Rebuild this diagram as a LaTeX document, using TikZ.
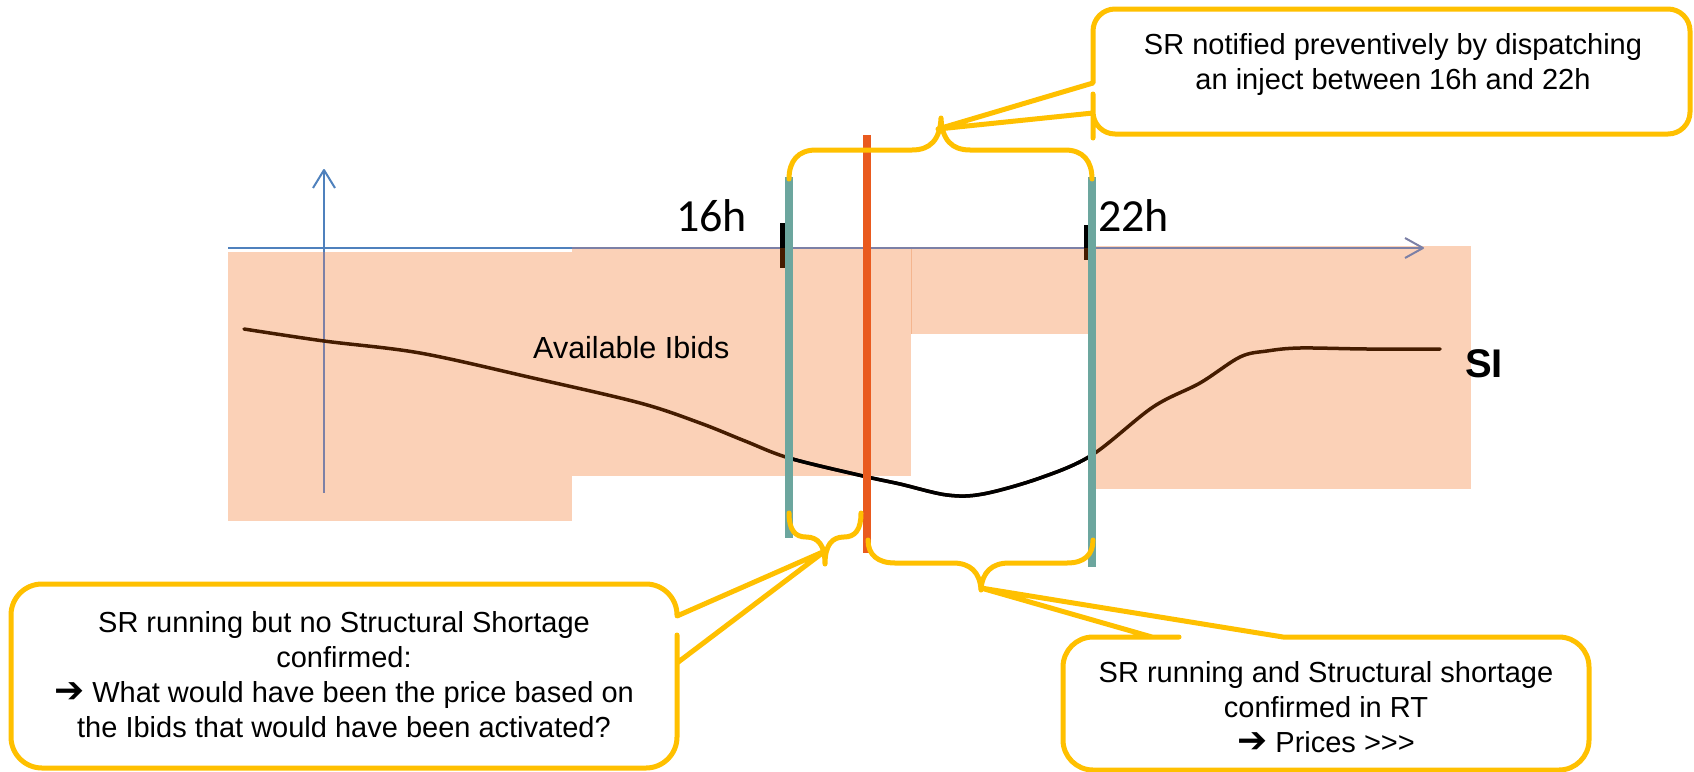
\documentclass[tikz,border=0pt]{standalone}
\usepackage{fontspec}
\setmainfont{Liberation Sans}
\newfontfamily\carlito{Carlito}
\newfontfamily\dejavu{DejaVu Sans}
\definecolor{peach}{HTML}{FBD1B7}
\definecolor{peachedge}{HTML}{F4B58E}
\definecolor{axblue}{HTML}{4F81BD}
\definecolor{axdim}{HTML}{7C80A6}
\definecolor{tealc}{HTML}{6CA69E}
\definecolor{orangec}{HTML}{E95A1E}
\definecolor{gold}{HTML}{FFC000}
\definecolor{brownc}{HTML}{451C00}
\newcommand{\heavyarrow}{{\dejavu\fontsize{36}{35}\selectfont ➔}}
\tikzset{
  peachbox/.style={fill=peach, draw=none},
  axisline/.style={draw=axblue, line width=2pt},
  axisdim/.style={draw=axdim, line width=2pt},
  tealline/.style={draw=tealc, line width=8pt},
  orangeline/.style={draw=orangec, line width=8pt},
  tickmark/.style={line width=5pt},
  curveline/.style={line width=3.5pt, line cap=round},
  bracepath/.style={draw=gold, line width=5pt, line cap=round, line join=round},
  calloutbox/.style={draw=gold, fill=white, line width=5pt, line join=round},
  ctext/.style={font=\fontsize{29}{35}\selectfont, align=center, inner sep=0pt, anchor=base},
  hourlabel/.style={font=\carlito\fontsize{46}{50}\selectfont, inner sep=0pt, anchor=base west},
}
\begin{document}
\begin{tikzpicture}[x=1pt,y=-1pt]
\useasboundingbox (0,0) rectangle (1694,771);
% axes (blue part)
\draw[axisline] (228,248) -- (1423,248);
\draw[axisline] (324,493) -- (324,170);
% peach areas
\fill[peachbox] (228,252) rectangle (572,521);
\fill[peachbox] (572,248.5) rectangle (911,476);
\fill[peachbox] (911,248.5) rectangle (1091,334);
\fill[peachbox] (1088,246) rectangle (1471,489);
\draw[draw=peachedge, line width=1pt] (911,249) -- (911,334);
% axes over peach
\draw[axisdim] (572,248) -- (1423,248);
\draw[axisdim, line join=round] (1405,238) -- (1423,248) -- (1405,258);
\draw[axisdim] (324,252) -- (324,493);
\draw[axisline, line join=round] (313,188) -- (324,170) -- (335,188);
% curve
\draw[curveline, draw=brownc] plot[smooth, tension=0.55] coordinates {(244,329) (324,341) (420,353) (533,378) (640,403) (700,423) (745,441) (789,458) (863,476) (900,484) (947,495) (983,494) (1040,478) (1092,455) (1153,407) (1200,383) (1240,357) (1267,351) (1300,348) (1367,349) (1440,349)};
\begin{scope}
\clip (789,400) rectangle (1092,520);
\draw[curveline, draw=black] plot[smooth, tension=0.55] coordinates {(244,329) (324,341) (420,353) (533,378) (640,403) (700,423) (745,441) (789,458) (863,476) (900,484) (947,495) (983,494) (1040,478) (1092,455) (1153,407) (1200,383) (1240,357) (1267,351) (1300,348) (1367,349) (1440,349)};
\end{scope}
% tick marks
\draw[tickmark, draw=black] (782,223) -- (782,248);
\draw[tickmark, draw=brownc] (782,248) -- (782,268);
\draw[tickmark, draw=black] (1086,225) -- (1086,248);
\draw[tickmark, draw=brownc] (1086,248) -- (1086,260);
% vertical markers
\draw[tealline] (789,177) -- (789,538);
\draw[tealline] (1092,177) -- (1092,567);
\draw[orangeline] (867,135) -- (867,553);
% labels
\node[hourlabel] (h16) at (676,231) {16h};
\node[hourlabel] (h22) at (1098,231) {22h};
\node[font=\fontsize{30.5}{34}\selectfont, inner sep=0pt, anchor=base west] (ibids) at (533,358) {Available Ibids};
\node[font=\bfseries\fontsize{40}{44}\selectfont, inner sep=0pt, anchor=base west] (si) at (1465,377) {SI};
% callouts
\draw[calloutbox] (938,129) -- (1093,83) -- (1093,80) [rounded corners=22pt] -- (1093,9) -- (1690,9) -- (1690,134) -- (1093,134) -- (1093,116) [sharp corners] -- (1093,113) -- cycle;
\node[ctext] (c1) at (1393,89) {SR notified preventively by dispatching\\an inject between 16h and 22h};
\draw[calloutbox] (825,551) -- (677,616) -- (677,615) [rounded corners=31pt] -- (677,584) -- (11,584) -- (11,768) -- (677,768) -- (677,666) [sharp corners] -- (677,663) -- cycle;
\node[ctext] (c2) at (344,737) {SR running but no Structural Shortage\\confirmed:\\\heavyarrow{} What would have been the price based on\\the Ibids that would have been activated?};
\draw[calloutbox] (981,588) -- (1283,637) -- (1285,637) [rounded corners=30pt] -- (1589,637) -- (1589,770) -- (1063,770) -- (1063,637) -- (1149,637) [sharp corners] -- (1152,637) -- cycle;
\node[ctext] (c3) at (1326,752) {SR running and Structural shortage\\confirmed in RT\\\heavyarrow{} Prices >{}>{}>};
% braces
\draw[bracepath] (789,179) .. controls (789,161) and (798,150) .. (816,150) -- (912,150) .. controls (930,150) and (940,140) .. (941,118) .. controls (942,140) and (952,150) .. (970,150) -- (1065,150) .. controls (1083,150) and (1092,161) .. (1092,179);
\draw[bracepath] (789,513) .. controls (789,530) and (795,537) .. (806,537) .. controls (818,537) and (825,545) .. (825,564) .. controls (825,545) and (832,537) .. (844,537) .. controls (855,537) and (861,530) .. (861,513);
\draw[bracepath] (868,540) .. controls (868,555) and (878,563) .. (895,563) -- (953,563) .. controls (970,563) and (980,572) .. (981,590) .. controls (982,572) and (992,563) .. (1009,563) -- (1067,563) .. controls (1084,563) and (1093,555) .. (1093,540);
\end{tikzpicture}
\end{document}
